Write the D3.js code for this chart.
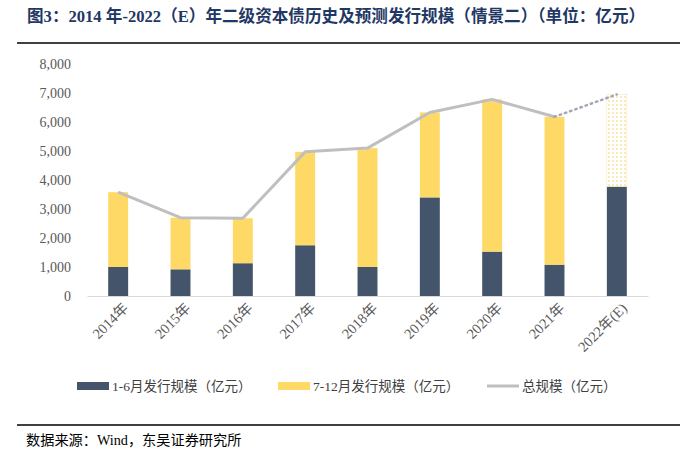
<!DOCTYPE html>
<html><head><meta charset="utf-8">
<script src="https://cdn.jsdelivr.net/npm/d3@7"></script>
<style>
body{margin:0;background:#fff;}
svg{display:block;}
</style></head>
<body>
<svg id="c" width="700" height="454"></svg>
<script>
const categories = ["2014年","2015年","2016年","2017年","2018年","2019年","2020年","2021年","2022年(E)"];
const h1Values = [1000, 920, 1130, 1750, 1000, 3400, 1530, 1080, 3780];
const totalValues = [3580, 2700, 2680, 4970, 5100, 6330, 6780, 6180, 6950];
const h2Values = totalValues.map((t,i)=>t-h1Values[i]);
const yTicks = [0,1000,2000,3000,4000,5000,6000,7000,8000];
const title = "图3：2014 年-2022（E）年二级资本债历史及预测发行规模（情景二）（单位：亿元）";
const legendLabels = ["1-6月发行规模（亿元）","7-12月发行规模（亿元）","总规模（亿元）"];
const source = "数据来源：Wind，东吴证券研究所";

const svg = d3.select("#c");
const serif = "'Liberation Serif','Times New Roman','Noto Sans CJK SC',serif";
const cDark = "#44546a", cYellow = "#ffd966", cGray = "#bfbfbf";

const x = d3.scaleBand().domain(categories).range([87,648]).paddingInner(0.68).paddingOuter(0.34);
const y = d3.scaleLinear().domain([0,8000]).range([296,64]);

// pattern for forecast
const defs = svg.append("defs");
const pat = defs.append("pattern").attr("id","dots").attr("patternUnits","userSpaceOnUse").attr("width",4).attr("height",4);
pat.append("rect").attr("width",4).attr("height",4).attr("fill","#fff");
pat.append("circle").attr("cx",1).attr("cy",1).attr("r",0.75).attr("fill","#f3cb55");

// title
svg.append("text").attr("x",27).attr("y",22).attr("font-family",serif).attr("font-weight","bold")
  .attr("font-size",16.6).attr("fill","#1f3864").text(title);
svg.append("line").attr("x1",17).attr("x2",680).attr("y1",43).attr("y2",43).attr("stroke","#000").attr("stroke-width",1.5);

// y axis
const yAxis = d3.axisLeft(y).tickValues(yTicks).tickFormat(d3.format(",")).tickSize(0).tickPadding(0);
const ya = svg.append("g").attr("transform","translate(71,0)").call(yAxis);
ya.select(".domain").remove();
ya.selectAll("text").attr("font-family",serif).attr("font-size",14).attr("fill","#595959");

// bars
const idxLast = categories.length-1;
svg.append("g").selectAll("rect").data(categories).join("rect")
  .attr("x",d=>x(d)).attr("width",x.bandwidth())
  .attr("y",(d,i)=>y(h1Values[i])).attr("height",(d,i)=>y(0)-y(h1Values[i]))
  .attr("fill",cDark);
svg.append("g").selectAll("rect").data(categories).join("rect")
  .attr("x",d=>x(d)).attr("width",x.bandwidth())
  .attr("y",(d,i)=>y(totalValues[i])).attr("height",(d,i)=>y(h1Values[i])-y(totalValues[i]))
  .attr("fill",(d,i)=>i===idxLast?"url(#dots)":cYellow)
  .attr("stroke",(d,i)=>i===idxLast?"#fbeec4":"none").attr("stroke-width",0.8);

// x axis
const xa = svg.append("g").attr("transform","translate(0,296)").call(d3.axisBottom(x).tickSize(0).tickPadding(0));
xa.select(".domain").attr("stroke","#d9d9d9").attr("stroke-width",1.2);
xa.selectAll("text").attr("font-family",serif).attr("font-size",14.5).attr("fill","#595959")
  .attr("text-anchor","end").attr("dy",0).attr("transform","translate(11,13) rotate(-45)");

// total line
const line = d3.line().x(d=>x(d.c)+x.bandwidth()/2).y(d=>y(d.v));
const pts = categories.map((c,i)=>({c,v:totalValues[i]}));
svg.append("path").datum(pts.slice(0,idxLast)).attr("d",line).attr("fill","none")
  .attr("stroke",cGray).attr("stroke-width",3).attr("stroke-linejoin","round");
svg.append("path").datum(pts.slice(idxLast-1)).attr("d",line).attr("fill","none")
  .attr("stroke","#a6a6b8").attr("stroke-width",2.5).attr("stroke-dasharray","1.5,4").attr("stroke-linecap","round");

// legend
const lg = svg.append("g").attr("font-family",serif).attr("font-size",13.5).attr("fill","#404040");
lg.append("rect").attr("x",77).attr("y",382).attr("width",32).attr("height",8).attr("fill",cDark);
lg.append("text").attr("x",112).attr("y",391).text(legendLabels[0]);
lg.append("rect").attr("x",278).attr("y",382).attr("width",32).attr("height",8).attr("fill",cYellow);
lg.append("text").attr("x",313).attr("y",391).text(legendLabels[1]);
lg.append("line").attr("x1",487).attr("x2",519).attr("y1",386).attr("y2",386).attr("stroke",cGray).attr("stroke-width",3);
lg.append("text").attr("x",522).attr("y",391).text(legendLabels[2]);

// source
svg.append("line").attr("x1",17).attr("x2",680).attr("y1",425).attr("y2",425).attr("stroke","#000").attr("stroke-width",1.5);
svg.append("text").attr("x",26).attr("y",445).attr("font-family",serif).attr("font-size",14.2).attr("fill","#000").text(source);
</script>
</body></html>
